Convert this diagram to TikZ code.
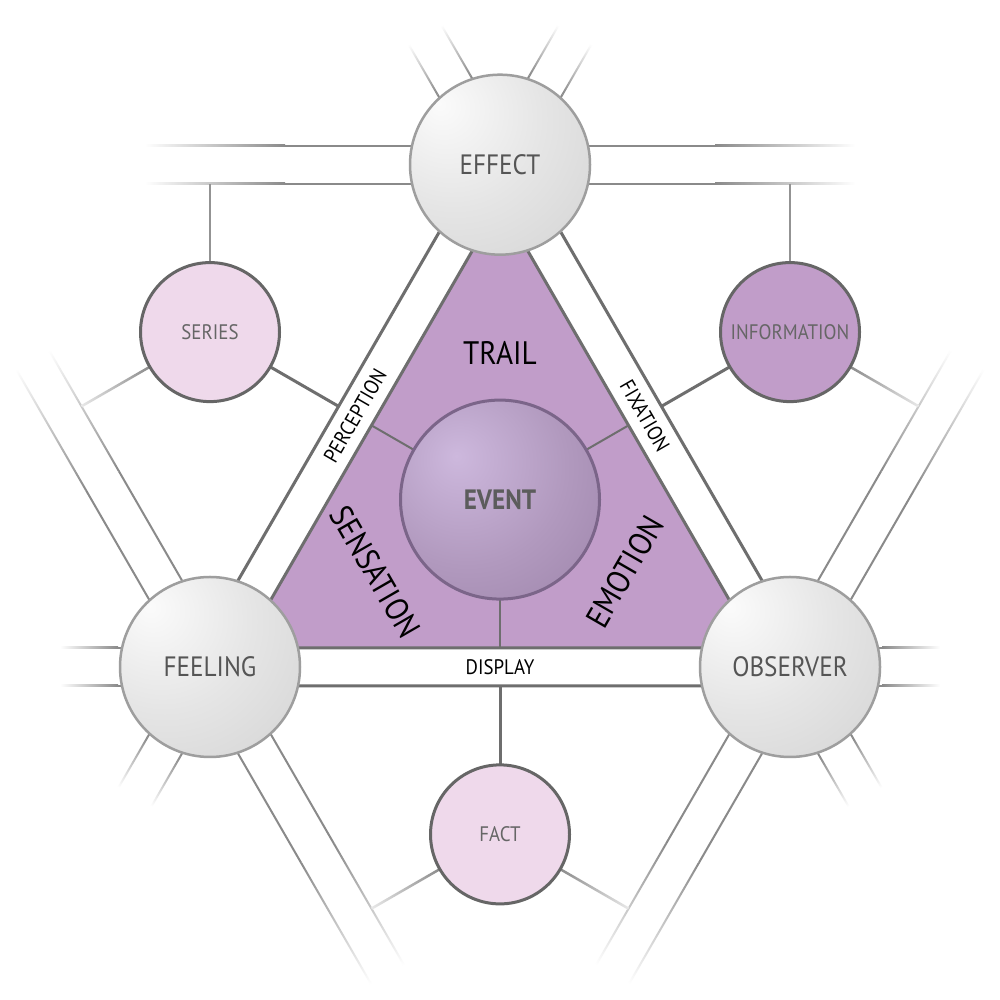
\documentclass[tikz,border=0pt]{standalone}
\usepackage{fontspec}
\setmainfont{PT Sans}[FakeStretch=0.9]
\usetikzlibrary{calc}
\definecolor{bandline}{HTML}{6E6E6E}
\definecolor{extline}{HTML}{8A8A8A}
\definecolor{upline}{HTML}{939393}
\definecolor{fadestart}{HTML}{888888}
\definecolor{fadeend}{HTML}{E8E8E8}
\definecolor{purplefill}{HTML}{C19DC9}
\definecolor{pinkfill}{HTML}{EFD9EB}
\definecolor{sphereedge}{HTML}{9E9E9E}
\definecolor{subedge}{HTML}{666666}
\definecolor{eventedge}{HTML}{7B6589}
\definecolor{labelgray}{HTML}{555555}
\definecolor{subtext}{HTML}{666666}
\definecolor{eventtext}{HTML}{5C5C5C}
\definecolor{gs0}{HTML}{FBFBFB}
\definecolor{gs1}{HTML}{E5E5E5}
\definecolor{gs2}{HTML}{D3D3D3}
\definecolor{gs3}{HTML}{BFBFBF}
\definecolor{ev0}{HTML}{CDB8DD}
\definecolor{ev1}{HTML}{B199BE}
\definecolor{ev2}{HTML}{9980A6}
\definecolor{ev3}{HTML}{876C94}
\pgfdeclareradialshading{graysphere}{\pgfpoint{-17bp}{17bp}}{color(0bp)=(gs0); color(25bp)=(gs1); color(50bp)=(gs2); color(75bp)=(gs3); color(100bp)=(gs3)}
\pgfdeclareradialshading{eventsphere}{\pgfpoint{-11bp}{11bp}}{color(0bp)=(ev0); color(25bp)=(ev1); color(50bp)=(ev2); color(70bp)=(ev3); color(100bp)=(ev3)}
% band extension: x, y, angle, solid end, fade end
\newcommand{\bandext}[5]{%
  \begin{scope}[transform canvas={shift={(#1,#2)},rotate=#3}]
    \fill[extline] (0,18) rectangle (#4,20);
    \fill[extline] (0,-20) rectangle (#4,-18);
    \shade[left color=extline,right color=white] (#4,18) rectangle (#5,20);
    \shade[left color=extline,right color=white] (#4,-20) rectangle (#5,-18);
  \end{scope}}
% fading connector: x, y, angle
\newcommand{\fadeconn}[3]{%
  \begin{scope}[transform canvas={shift={(#1,#2)},rotate=#3}]
    \shade[left color=fadestart,right color=fadeend] (66,-1.25) rectangle (148.4,1.25);
  \end{scope}}
\begin{document}
\begin{tikzpicture}[x=1pt,y=1pt,
  bigsphere/.style={circle, inner sep=0pt, minimum size=180pt, draw=sphereedge, line width=2.5pt, shade, shading=graysphere, text=labelgray, font=\fontsize{28}{30}\selectfont},
  eventball/.style={circle, inner sep=0pt, minimum size=199pt, draw=eventedge, line width=3pt, shade, shading=eventsphere, text=eventtext, font=\fontsize{28}{30}\selectfont\bfseries},
  subcirc/.style={circle, inner sep=0pt, minimum size=139pt, draw=subedge, line width=3pt, text=subtext, font=\fontsize{21}{23}\selectfont},
  biglabel/.style={inner sep=0pt, text=black, font=\fontsize{32.5}{34}\selectfont},
  bandlabel/.style={inner sep=0pt, text=black, font=\fontsize{21}{23}\selectfont},
  bandstroke/.style={draw=bandline, line width=3pt},
  darkconn/.style={draw=bandline, line width=3pt},
  eventconn/.style={draw=bandline, line width=2pt},
  upconn/.style={draw=upline, line width=2.5pt}]
\fill[white] (0,0) rectangle (1000,1000);
\coordinate (E) at (500,835.3);
\coordinate (F) at (210,333);
\coordinate (O) at (790,333);
\coordinate (C) at (500,500.4);
\coordinate (S) at (210,667.9);
\coordinate (I) at (790,667.9);
\coordinate (A) at (500,165.6);
% lattice extensions
\bandext{500}{835.3}{180}{215}{355}
\bandext{500}{835.3}{0}{215}{355}
\bandext{500}{835.3}{120}{92}{150}
\bandext{500}{835.3}{60}{92}{150}
\bandext{210}{333}{120}{215}{355}
\bandext{210}{333}{300}{215}{355}
\bandext{210}{333}{180}{92}{150}
\bandext{210}{333}{240}{92}{150}
\bandext{790}{333}{60}{215}{355}
\bandext{790}{333}{240}{215}{355}
\bandext{790}{333}{0}{92}{150}
\bandext{790}{333}{300}{92}{150}
% fading connectors
\fadeconn{210}{667.9}{210}
\fadeconn{790}{667.9}{330}
\fadeconn{500}{165.6}{210}
\fadeconn{500}{165.6}{330}
% triangle bands
\draw[bandstroke] (500,873.2) -- (177.1,314.0) -- (822.9,314.0) -- cycle;
\filldraw[fill=purplefill, draw=bandline, line width=3pt] (500,797.2) -- (242.96,352.0) -- (757.04,352.0) -- cycle;
% connectors
\draw[upconn] (S) -- ($(S)+(0,148.4)$);
\draw[upconn] (I) -- ($(I)+(0,148.4)$);
\draw[darkconn] (S) -- ($(S)+(-30:148.4)$);
\draw[darkconn] (I) -- ($(I)+(210:148.4)$);
\draw[darkconn] (A) -- ($(A)+(90:148.4)$);
\draw[eventconn] (C) -- ($(C)+(150:148.4)$);
\draw[eventconn] (C) -- ($(C)+(30:148.4)$);
\draw[eventconn] (C) -- ($(C)+(270:148.4)$);
% circles
\node[bigsphere] (effect) at (E) {EFFECT};
\node[bigsphere] (feeling) at (F) {FEELING};
\node[bigsphere] (observer) at (O) {OBSERVER};
\node[eventball] (event) at (C) {EVENT};
\node[subcirc, fill=pinkfill] (series) at (S) {SERIES};
\node[subcirc, fill=purplefill] (information) at (I) {INFORMATION};
\node[subcirc, fill=pinkfill] (fact) at (A) {FACT};
% labels
\node[biglabel] (trail) at ($(C)+(90:147)$) {TRAIL};
\node[biglabel, rotate=-60] (sensation) at ($(C)+(210:144)$) {SENSATION};
\node[biglabel, rotate=60] (emotion) at ($(C)+(330:144)$) {EMOTION};
\node[bandlabel, rotate=60] (perception) at ($(E)!0.5!(F)$) {PERCEPTION};
\node[bandlabel, rotate=-60] (fixation) at ($(E)!0.5!(O)$) {FIXATION};
\node[bandlabel] (display) at ($(F)!0.5!(O)$) {DISPLAY};
\pgfresetboundingbox
\path[use as bounding box] (0,0) rectangle (1000,1000);
\end{tikzpicture}
\end{document}
